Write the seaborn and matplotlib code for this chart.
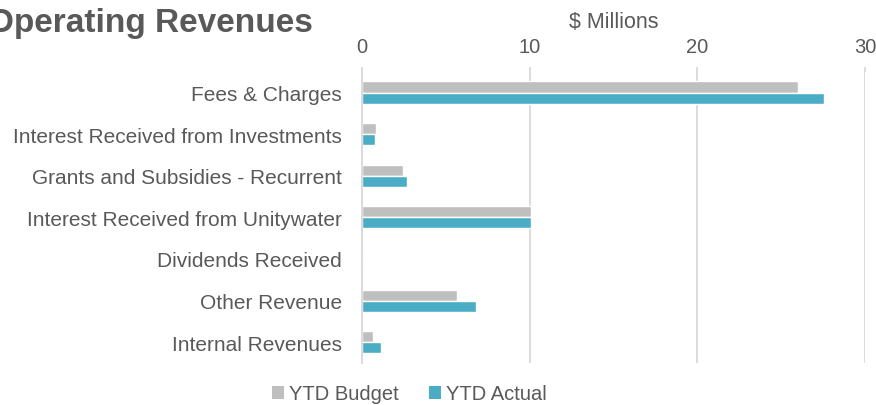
import matplotlib
matplotlib.use("Agg")
import matplotlib.pyplot as plt
import seaborn as sns
import pandas as pd
from matplotlib.patches import Patch

categories = ["Fees & Charges", "Interest Received from Investments",
              "Grants and Subsidies - Recurrent", "Interest Received from Unitywater",
              "Dividends Received", "Other Revenue", "Internal Revenues"]
ytd_budget = [26.0, 0.84, 2.47, 10.1, 0.0, 5.65, 0.68]
ytd_actual = [27.55, 0.80, 2.67, 10.1, 0.0, 6.79, 1.12]
series = ["YTD Budget", "YTD Actual"]
colors = ["#BFBFBF", "#4BACC6"]
x_ticks = [0, 10, 20, 30]

df = pd.DataFrame({
    "Category": categories * 2,
    "Value": ytd_budget + ytd_actual,
    "Series": [series[0]] * len(categories) + [series[1]] * len(categories),
})

sns.set_theme(style="white")
plt.rcParams["font.family"] = ["Liberation Sans", "DejaVu Sans"]
txt = "#595959"
grid_c = "#D9D9D9"
fs = 14.5

fig = plt.figure(figsize=(8.76, 4.06), dpi=100)
ax = fig.add_axes([362/876, 1 - 364/406, (865 - 362)/876, (364 - 72.7)/406])

sns.barplot(data=df, y="Category", x="Value", hue="Series", order=categories,
            hue_order=series, palette=colors, orient="h", width=0.53,
            saturation=1, ax=ax, legend=False, errorbar=None)

ax.set_xlim(0, 30)
ax.set_xticks(x_ticks)
ax.xaxis.tick_top()
ax.xaxis.set_label_position("top")
ax.set_xlabel("$ Millions", fontsize=15.5, color=txt, labelpad=7)
ax.set_ylabel("")
ax.tick_params(axis="x", labelsize=fs, labelcolor=txt, color=grid_c, width=1.3,
               length=3.4, direction="out", pad=8)
ax.tick_params(axis="y", labelsize=15, colors=txt, length=0, pad=14.4)
ax.grid(axis="x", color=grid_c, linewidth=1.3)
ax.set_axisbelow(True)
for s in ["top", "right", "bottom"]:
    ax.spines[s].set_visible(False)
ax.spines["left"].set_color(grid_c)
ax.spines["left"].set_linewidth(1.3)

fig.text(313/876, 1 - 32/406, "Operating Revenues", ha="right", va="baseline",
         fontsize=24, fontweight="bold", color=txt)

handles = [Patch(facecolor=c, edgecolor="none") for c in colors]
fig.legend(handles, series, loc="center", bbox_to_anchor=(409/876, 1 - 395/406),
           ncol=2, frameon=False, fontsize=fs, labelcolor=txt,
           handlelength=0.6, handleheight=0.6, handletextpad=0.25, columnspacing=1.5)

fig.savefig("out.png", dpi=100)
